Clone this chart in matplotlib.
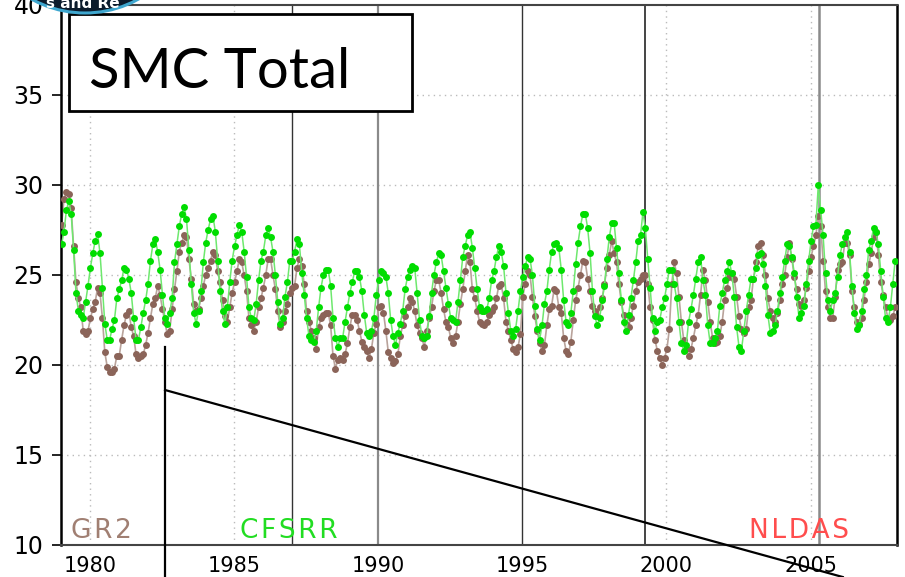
import numpy as np
import matplotlib
matplotlib.use('Agg')
import matplotlib.pyplot as plt
from matplotlib.patches import Circle, Rectangle

# monthly soil moisture, Jan 1979 .. Dec 2007
start_year = 1979

cfsrr = [
    26.7, 27.4, 28.6, 29.1, 28.4, 26.4, 24.0, 23.0, 22.8, 22.6, 23.5, 24.4,  # 1979
    25.4, 26.2, 26.9, 27.3, 26.2, 24.3, 22.3, 21.4, 21.4, 22.0, 22.5, 23.7,
    24.2, 24.7, 25.4, 25.3, 24.8, 24.0, 22.6, 21.4, 21.4, 22.1, 22.9, 23.6,
    24.5, 25.8, 26.7, 27.0, 26.3, 25.3, 23.9, 22.6, 22.3, 22.9, 23.7, 25.7,
    26.7, 27.7, 28.4, 28.8, 28.1, 26.4, 24.5, 22.9, 22.3, 23.0, 24.1, 25.7,
    26.8, 27.5, 28.1, 28.3, 27.4, 25.8, 24.1, 23.0, 22.3, 23.2, 24.6, 25.8,  # 1984
    26.6, 27.2, 27.8, 27.4, 26.3, 24.9, 23.2, 22.6, 22.5, 23.4, 24.7, 25.8,
    26.3, 27.2, 27.6, 27.1, 26.3, 25.0, 23.5, 22.3, 22.6, 23.8, 24.6, 25.8,
    25.8, 26.3, 27.0, 26.7, 25.1, 23.9, 22.6, 21.6, 21.4, 21.3, 21.9, 23.2,
    24.3, 25.0, 25.3, 25.3, 24.4, 22.6, 21.5, 21.0, 21.5, 21.5, 22.4, 23.2,
    24.0, 24.6, 25.2, 25.2, 24.9, 24.1, 22.8, 21.8, 21.6, 21.9, 22.6, 23.9,  # 1989
    24.7, 25.2, 25.1, 24.9, 24.0, 22.5, 21.6, 21.1, 21.8, 22.3, 23.0, 24.2,
    24.9, 25.3, 25.5, 25.4, 24.0, 22.5, 21.6, 21.5, 21.6, 22.7, 24.0, 25.0,
    25.7, 26.2, 26.1, 25.2, 24.3, 23.4, 22.6, 22.5, 22.4, 23.5, 24.7, 26.0,
    26.6, 27.2, 27.4, 26.5, 25.4, 24.2, 23.2, 23.0, 23.0, 23.1, 23.7, 24.7,
    25.2, 26.0, 26.6, 26.3, 25.5, 24.0, 22.9, 21.9, 21.6, 22.0, 23.0, 24.1,  # 1994
    24.9, 25.5, 26.0, 25.9, 25.0, 23.3, 22.0, 21.4, 22.2, 23.4, 24.1, 25.3,
    26.3, 26.7, 26.8, 26.5, 25.3, 23.6, 22.4, 22.2, 22.9, 24.1, 25.6, 26.8,
    27.7, 28.4, 28.4, 27.6, 26.2, 24.1, 22.7, 22.2, 22.6, 23.6, 24.4, 25.9,
    27.1, 27.9, 27.9, 26.5, 25.1, 23.6, 22.4, 21.9, 22.8, 23.7, 24.7, 25.7,
    26.9, 27.2, 28.5, 27.6, 25.9, 24.3, 22.6, 21.9, 22.4, 22.5, 23.2, 23.7,  # 1999
    24.5, 25.3, 25.3, 24.5, 23.7, 22.4, 21.2, 20.8, 21.1, 22.4, 23.1, 23.9,
    24.8, 25.7, 26.0, 24.7, 23.9, 22.2, 21.2, 21.2, 21.5, 21.9, 23.3, 24.0,
    24.7, 25.2, 25.7, 25.1, 23.8, 22.1, 21.0, 20.8, 21.9, 23.0, 23.9, 24.8,
    24.8, 25.4, 26.1, 26.2, 25.6, 24.4, 22.8, 21.8, 21.9, 22.2, 23.0, 24.0,
    24.9, 25.8, 26.7, 26.6, 26.0, 25.1, 23.8, 22.6, 22.9, 23.3, 24.5, 25.8,  # 2004
    26.9, 27.7, 27.8, 30.0, 28.6, 27.2, 25.1, 23.6, 23.0, 23.6, 24.0, 24.9,
    26.1, 26.7, 27.1, 27.4, 26.3, 24.4, 22.9, 22.0, 22.2, 23.0, 24.2, 25.0,
    26.4, 26.9, 27.6, 27.4, 26.7, 25.2, 23.8, 22.6, 22.4, 23.2, 24.5, 25.8,
]

gr2 = [
    27.8, 29.2, 29.6, 29.5, 28.7, 26.6, 24.6, 23.7, 23.2, 21.9, 21.7, 21.9,  # 1979
    22.6, 23.1, 23.5, 24.3, 24.0, 22.6, 20.7, 19.9, 19.6, 19.6, 19.8, 20.5,
    20.5, 21.4, 22.2, 22.8, 23.0, 22.1, 21.6, 20.6, 20.4, 20.5, 20.6, 21.1,
    21.8, 22.6, 23.4, 23.7, 24.4, 23.9, 23.1, 22.4, 21.7, 21.9, 23.1, 24.2,
    25.2, 26.3, 26.8, 27.2, 27.1, 25.9, 24.8, 23.4, 23.0, 23.1, 23.7, 24.4,
    25.0, 25.4, 25.8, 26.3, 26.1, 25.2, 24.6, 23.6, 22.7, 22.4, 23.2, 24.0,  # 1984
    24.6, 25.2, 25.9, 25.7, 25.0, 24.1, 22.6, 22.2, 21.9, 22.4, 23.2, 23.7,
    24.3, 25.0, 25.9, 25.9, 25.0, 24.2, 23.0, 22.1, 22.4, 23.0, 23.4, 24.0,
    24.3, 24.4, 25.4, 25.9, 25.5, 24.5, 23.0, 22.4, 21.9, 21.5, 20.9, 22.1,
    22.6, 22.8, 22.9, 22.9, 22.2, 20.5, 19.8, 20.3, 20.4, 20.3, 20.6, 21.2,
    22.1, 22.8, 22.8, 22.5, 21.9, 21.3, 21.0, 20.8, 20.4, 20.9, 21.8, 22.3,  # 1989
    23.2, 23.3, 22.9, 21.9, 20.7, 20.4, 20.1, 20.2, 20.6, 21.6, 22.2, 22.7,
    23.2, 23.7, 23.5, 23.0, 22.2, 21.8, 21.5, 21.0, 21.9, 22.6, 23.2, 24.1,
    24.7, 24.7, 24.0, 23.1, 22.4, 22.1, 21.5, 21.2, 21.6, 22.4, 23.4, 24.2,
    25.2, 26.1, 25.7, 24.2, 23.7, 23.0, 22.4, 22.3, 22.2, 22.4, 22.8, 23.0,
    23.2, 23.7, 24.4, 24.5, 23.7, 22.4, 21.9, 21.4, 20.9, 20.7, 21.0, 21.7,  # 1994
    23.8, 24.5, 25.2, 25.0, 23.8, 22.7, 21.9, 21.2, 20.8, 21.1, 22.2, 23.1,
    23.3, 24.2, 24.1, 23.2, 22.9, 21.5, 20.8, 20.6, 21.3, 22.5, 23.6, 24.3,
    25.0, 25.8, 25.7, 24.8, 24.1, 23.3, 23.0, 22.7, 23.2, 23.7, 24.5, 25.4,
    26.1, 26.9, 26.2, 25.7, 24.5, 23.5, 22.8, 22.3, 22.1, 22.6, 23.3, 24.1,
    24.6, 24.8, 25.0, 25.0, 24.5, 23.2, 22.5, 21.4, 20.8, 20.4, 20.0, 20.4,  # 1999
    20.9, 22.0, 24.5, 25.7, 25.1, 23.8, 22.4, 21.4, 20.9, 20.5, 20.9, 21.5,
    22.2, 22.8, 23.9, 25.3, 24.7, 23.5, 22.4, 21.5, 21.2, 21.3, 21.6, 22.4,
    23.6, 24.3, 24.9, 25.1, 24.8, 23.8, 22.7, 22.0, 21.8, 22.0, 23.2, 23.6,
    24.8, 25.7, 26.6, 26.8, 26.1, 25.0, 23.7, 23.0, 22.6, 22.4, 22.9, 23.6,
    24.5, 25.0, 26.0, 26.8, 25.9, 24.9, 24.2, 23.4, 23.3, 23.6, 24.3, 25.2,  # 2004
    26.0, 26.6, 27.2, 28.3, 27.7, 25.8, 24.1, 23.2, 22.6, 22.6, 23.8, 25.3,
    25.6, 25.7, 26.8, 26.8, 26.1, 24.1, 23.2, 22.4, 22.3, 22.6, 23.6, 24.6,
    25.6, 26.2, 27.1, 27.4, 26.1, 24.6, 23.9, 23.2, 22.6, 22.5, 22.7, 23.2,
]

# vertical marker lines (year, colour, width)
event_years = [1987.0, 1990.0, 1995.0, 1999.27, 2005.28]
event_colors = ['#333333', '#8a8a8a', '#333333', '#444444', '#8a8a8a']
event_widths = [1.0, 1.6, 1.0, 1.4, 1.8]

xticks = [1980, 1985, 1990, 1995, 2000, 2005]
yticks = [10, 15, 20, 25, 30, 35, 40]

labels = ['GR2', 'CFSRR', 'NLDAS']
label_x = [1979.35, 1985.21, 2002.86]
label_colors = ['#a07f72', '#22dd22', '#ff4d4d']

months = start_year + np.arange(len(cfsrr)) / 12.0 + 0.02

fig = plt.figure(figsize=(9.05, 5.77), dpi=100)
ax = fig.add_axes([61 / 905, 32 / 577, 836 / 905, 540 / 577])

ax.set_xlim(1979, 2008)
ax.set_ylim(10, 40)

# grid (dotted light gray)
for x in [1980, 1985, 2000, 2005]:
    ax.axvline(x, color='#bbbbbb', lw=1, ls=(0, (1, 3)), zorder=0)
for y in [15, 20, 25, 30, 35]:
    ax.axhline(y, color='#bbbbbb', lw=1, ls=(0, (1, 3)), zorder=0)

for x, c, w in zip(event_years, event_colors, event_widths):
    ax.axvline(x, color=c, lw=w, zorder=1)

ax.plot(months, gr2, '-', color='#b9a39b', lw=1.2, zorder=2)
ax.plot(months, gr2, 'o', color='#8b6459', ms=5.0, mew=0, zorder=3)
ax.plot(months, cfsrr, '-', color='#6ee86e', lw=1.1, zorder=4)
ax.plot(months, cfsrr, 'o', color='#00dd00', ms=5.0, mew=0, zorder=5)

# model labels along the bottom, letters spaced out with hair spaces
for lab, x, c in zip(labels, label_x, label_colors):
    ax.text(x, 10.4, '\u200a'.join(lab), color=c, fontsize=19,
            va='baseline')

# black annotation lines from the slide
ax.plot([1982.61, 1982.61], [21.0, 8.0], color='black', lw=1.6,
        clip_on=False, zorder=6)
ax.plot([1982.61, 2006.12], [18.61, 8.22], color='black', lw=1.6,
        clip_on=False, zorder=6)

ax.set_xticks(xticks)
ax.set_yticks(yticks)
ax.tick_params(axis='y', direction='out', length=6.5, width=1.2,
               labelsize=17, pad=6)
ax.tick_params(axis='x', length=0, labelsize=15, pad=8)

for side in ['left', 'right']:
    ax.spines[side].set_linewidth(1.8)
    ax.spines[side].set_color('black')
for side in ['top', 'bottom']:
    ax.spines[side].set_linewidth(1.5)
    ax.spines[side].set_color('#444444')

# title box
fig.add_artist(Rectangle((0.69, 4.66), 3.43, 0.97, transform=fig.dpi_scale_trans,
                         facecolor='white', edgecolor='black', lw=2, zorder=10))
fig.text(0.89, 4.89, 'SMC Total', transform=fig.dpi_scale_trans,
         family='Lato', fontsize=40.5, va='baseline', ha='left', zorder=11)

# partial logo at top left
logo = Circle((0.85, 6.74), 1.10, transform=fig.dpi_scale_trans,
              facecolor='#0b1b2c', edgecolor='#3fa7cf', lw=2.2, zorder=12)
fig.add_artist(logo)
t = fig.text(0.46, 5.69, 's and Re', transform=fig.dpi_scale_trans,
             color='white', fontsize=11, fontweight='bold', va='baseline',
             zorder=13)
t.set_clip_path(logo)

fig.savefig('out.png', dpi=100)
